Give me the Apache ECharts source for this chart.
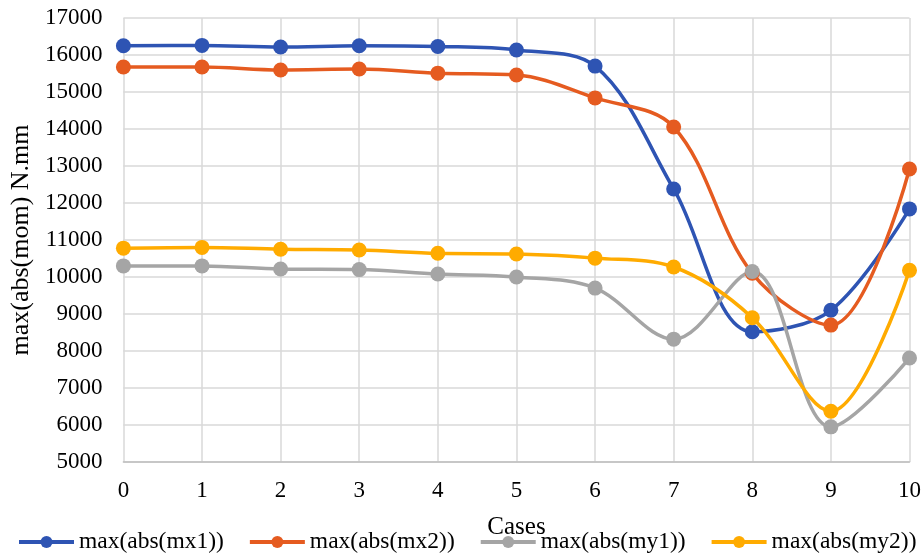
<!DOCTYPE html>
<html><head><meta charset="utf-8">
<script src="https://cdn.jsdelivr.net/npm/echarts@6/dist/echarts.min.js"></script>
<style>html,body{margin:0;padding:0;background:#fff}#c{width:924px;height:557px}</style>
</head><body><div id="c"></div>
<script>
const categories = ['0','1','2','3','4','5','6','7','8','9','10'];
const mx1 = [16250, 16260, 16215, 16250, 16230, 16135, 15700, 12380, 8520, 9100, 11840];
const mx2 = [15676, 15676, 15595, 15620, 15510, 15460, 14840, 14054, 10100, 8700, 12920];
const my1 = [10300, 10300, 10216, 10200, 10080, 10000, 9700, 8320, 10150, 5950, 7810];
const my2 = [10780, 10800, 10750, 10730, 10640, 10620, 10510, 10270, 8900, 6370, 10180];
const seriesNames = ['max(abs(mx1))','max(abs(mx2))','max(abs(my1))','max(abs(my2))'];
const colors = ['#2E54B3','#E55B20','#A5A5A5','#FFAB00'];
const font = 'Liberation Serif';
const chart = echarts.init(document.getElementById('c'));
const mk = (name, data, color) => ({
  name, type:'line', data, smooth:0.35, symbol:'circle', symbolSize:15,
  lineStyle:{width:3.5, color}, itemStyle:{color}
});
chart.setOption({
  animation:false,
  color: colors,
  grid:{left:122, right:13, top:18, bottom:95},
  legend:{
    left:17, top:530, width:905, padding:0, itemWidth:55, itemHeight:15, itemGap:24,
    lineStyle:{width:4},
    textStyle:{fontFamily:font, fontSize:23.5, color:'#000'},
    data: seriesNames
  },
  xAxis:{
    type:'category', data:categories, boundaryGap:false,
    name:'Cases', nameLocation:'middle', nameGap:53,
    nameTextStyle:{fontFamily:font, fontSize:25, color:'#000'},
    axisLine:{lineStyle:{color:'#BFBFBF', width:1.5}},
    axisTick:{show:false},
    axisLabel:{fontFamily:font, fontSize:23, color:'#000', margin:17},
    splitLine:{show:true, lineStyle:{color:'#D9D9D9', width:1.5}}
  },
  yAxis:{
    type:'value', min:5000, max:17000, interval:1000,
    name:'max(abs(mom) N.mm', nameLocation:'middle', nameGap:88, nameRotate:90,
    nameTextStyle:{fontFamily:font, fontSize:26, color:'#000'},
    axisLine:{show:false}, axisTick:{show:false},
    axisLabel:{fontFamily:font, fontSize:23, color:'#000', margin:21, formatter: v => String(v)},
    splitLine:{lineStyle:{color:'#D9D9D9', width:1.5}}
  },
  series:[
    mk(seriesNames[0], mx1, colors[0]),
    mk(seriesNames[1], mx2, colors[1]),
    mk(seriesNames[2], my1, colors[2]),
    mk(seriesNames[3], my2, colors[3])
  ]
});
</script></body></html>
